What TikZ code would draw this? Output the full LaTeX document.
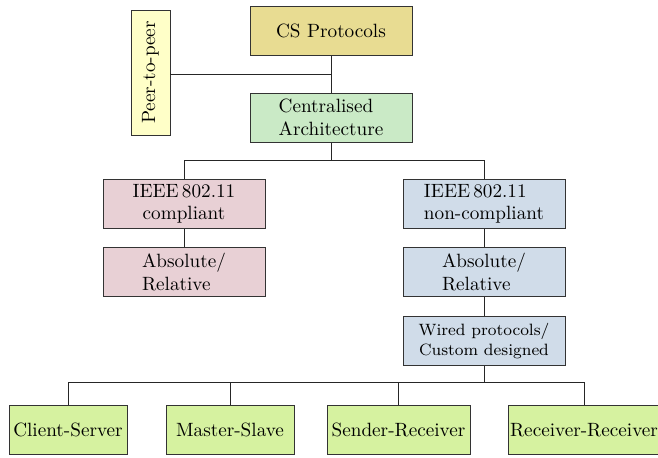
\documentclass[tikz,border=0pt]{standalone}
\begin{document}
\begin{tikzpicture}[x=0.5pt,y=-0.5pt,
  box/.style={draw=black!80,line width=0.5pt,inner sep=1pt,font=\fontsize{9.6}{11.2}\selectfont},
  wide/.style={box,minimum width=81pt,minimum height=24.5pt},
  leaf/.style={box,minimum height=24.5pt},
  conn/.style={draw=black!85,line width=0.5pt}]
\useasboundingbox (0,0) rectangle (658,457);
\definecolor{ckhaki}{RGB}{232,220,146}
\definecolor{cyel}{RGB}{255,255,200}
\definecolor{cgreen}{RGB}{202,234,198}
\definecolor{cpink}{RGB}{232,208,213}
\definecolor{cblue}{RGB}{208,220,233}
\definecolor{clime}{RGB}{214,242,160}
\node[wide,fill=ckhaki] (cs) at (331,30.5) {CS Protocols};
\node[box,fill=cyel,rotate=90,minimum width=62.5pt,minimum height=19.5pt] (p2p) at (150.5,72.5) {Peer-to-peer};
\node[wide,fill=cgreen,align=left] (ca) at (331,117.5) {Centralised\\Architecture};
\node[wide,fill=cpink,align=center] (ic) at (184,204) {IEEE\,802.11\\compliant};
\node[wide,fill=cpink,align=left] (ar1) at (184,272) {Absolute/\\Relative};
\node[wide,fill=cblue,align=left] (inc) at (484,204) {IEEE\,802.11\\non-compliant};
\node[wide,fill=cblue,align=left] (ar2) at (484,272) {Absolute/\\Relative};
\node[wide,fill=cblue,align=center,font=\fontsize{8.2}{10.2}\selectfont] (wp) at (484,341) {Wired protocols/\\Custom designed};
\node[leaf,fill=clime,minimum width=59pt] (c1) at (68,430) {Client-Server};
\node[leaf,fill=clime,minimum width=64pt] (c2) at (230,430) {Master-Slave};
\node[leaf,fill=clime,minimum width=71.5pt] (c3) at (398.5,430) {Sender-Receiver};
\node[leaf,fill=clime,minimum width=76pt] (c4) at (584,430) {Receiver-Receiver};
\coordinate (j1) at (331,74);
\draw[conn] (cs.south) -- (ca.north);
\draw[conn] (p2p.south) |- (j1);
\draw[conn] (ca.south) -- ++(0,18) -| (ic.north);
\draw[conn] (ca.south) -- ++(0,18) -| (inc.north);
\draw[conn] (ic.south) -- (ar1.north);
\draw[conn] (inc.south) -- (ar2.north);
\draw[conn] (ar2.south) -- (wp.north);
\draw[conn] (wp.south) -- ++(0,16) -| (c1.north);
\draw[conn] (wp.south) -- ++(0,16) -| (c2.north);
\draw[conn] (wp.south) -- ++(0,16) -| (c3.north);
\draw[conn] (wp.south) -- ++(0,16) -| (c4.north);
\end{tikzpicture}
\end{document}
